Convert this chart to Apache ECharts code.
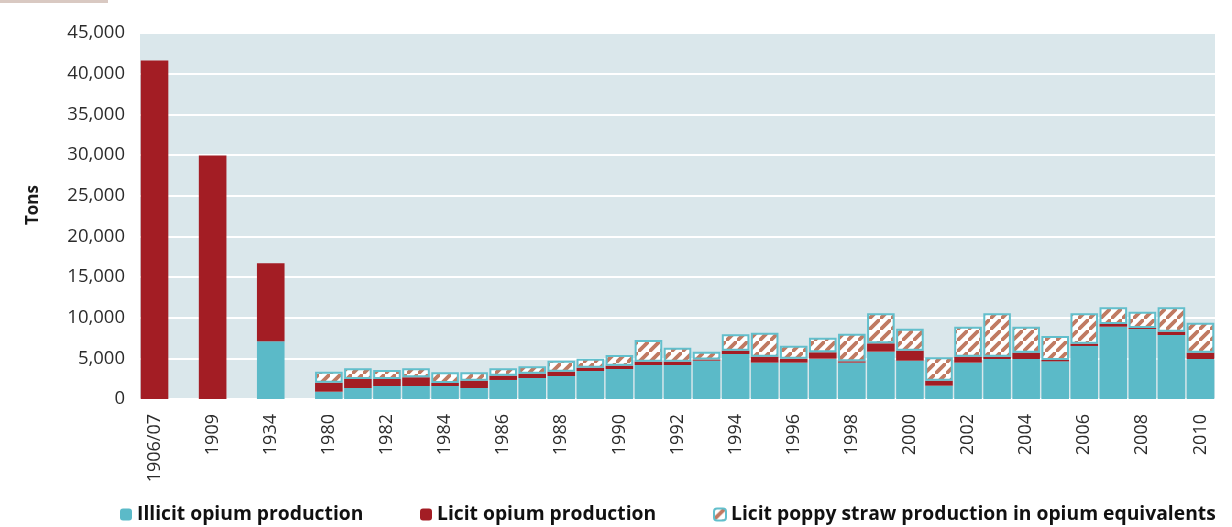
<!DOCTYPE html>
<html>
<head>
<meta charset="utf-8">
<script src="https://cdn.jsdelivr.net/npm/echarts@6/dist/echarts.min.js"></script>
<style>
html,body{margin:0;padding:0;background:#fff;}
#chart{width:1232px;height:527px;}
</style>
</head>
<body>
<div id="chart"></div>
<script>
// Categories (spacer slots separate the early years, as in the original)
var categories = ['1906/07',' ','1909','  ','1934','   ',
  '1980','1981','1982','1983','1984','1985','1986','1987','1988','1989',
  '1990','1991','1992','1993','1994','1995','1996','1997','1998','1999',
  '2000','2001','2002','2003','2004','2005','2006','2007','2008','2009','2010'];

var illicitOpium = [null,null,null,null,7100,null,
  900,1350,1600,1600,1600,1350,2340,2580,2830,3440,
  3690,4180,4180,4710,5530,4470,4470,4960,4470,5820,
  4710,1640,4470,4920,4920,4630,6520,8890,8610,7870,4920];

var licitOpium = [41624,null,29935,null,9600,null,
  1100,1110,860,1070,370,900,530,530,530,410,
  410,410,410,150,410,730,490,780,160,1020,
  1230,610,730,280,780,170,280,330,120,410,780];

var licitStraw = [null,null,null,null,null,null,
  1350,1310,1110,1100,1310,1030,900,910,1350,1110,
  1310,2660,1720,960,2010,2950,1600,1800,3400,3690,
  2710,2870,3690,5330,3190,2950,3730,2050,2010,2990,3680];

var yTicks = {min: 0, max: 45000, interval: 5000};

var seriesNames = ['Illicit opium production','Licit opium production','Licit poppy straw production in opium equivalents'];

// hatch pattern for straw series
var T = 11;
var tile = document.createElement('canvas');
tile.width = T; tile.height = T;
var g = tile.getContext('2d');
g.fillStyle = '#ffffff';
g.fillRect(0,0,T,T);
g.strokeStyle = '#c07a62';
g.lineWidth = 3.8;
g.beginPath();
g.moveTo(-2,T+2); g.lineTo(T+2,-2);
g.moveTo(-T-2,2); g.lineTo(2,-T-2);
g.moveTo(T-2,2*T+2); g.lineTo(2*T+2,T-2);
g.stroke();

var chart = echarts.init(document.getElementById('chart'), null, {renderer:'canvas'});
var font = 'Open Sans';
var legendText = {fontFamily:font, fontWeight:'bold', fontSize:19.3, color:'#111'};
chart.setOption({
  animation: false,
  backgroundColor: '#ffffff',
  grid: {left: 140, right: 17, top: 33, bottom: 128, show: true, backgroundColor: '#dae7eb', borderWidth: 0},
  graphic: [
    {type:'rect', left:0, top:0, shape:{width:108, height:3}, style:{fill:'#d9c9c2'}},
    {type:'text', x:33, y:205, rotation: Math.PI/2,
     style:{text:'Tons', font:'bold 17px "Open Sans"', fill:'#1a1a1a', textAlign:'center', textVerticalAlign:'middle'}}
  ],
  legend: [
    {data:[seriesNames[0]], left:115, top:500, itemWidth:12, itemHeight:12, itemGap:0, textStyle:legendText},
    {data:[seriesNames[1]], left:415, top:500, itemWidth:12, itemHeight:12, itemGap:0, textStyle:legendText},
    {data:[seriesNames[2]], left:708, top:500, itemWidth:12, itemHeight:12, itemGap:0, textStyle:legendText}
  ],
  xAxis: {
    type: 'category',
    data: categories,
    axisLine: {show:false},
    axisTick: {show:false},
    splitLine: {show:false},
    axisLabel: {interval:1, rotate:90, margin:15, fontFamily:font, fontSize:18, color:'#2b2b2b'}
  },
  yAxis: {
    type: 'value',
    min: yTicks.min, max: yTicks.max, interval: yTicks.interval,
    axisLine: {show:false},
    axisTick: {show:false},
    splitLine: {show:true, lineStyle:{color:'#ffffff', width:2}},
    axisLabel: {margin:15, fontFamily:font, fontSize:18.5, color:'#2b2b2b',
      formatter: function(v){ return v.toLocaleString('en-US'); }}
  },
  series: [
    {name: seriesNames[0], type:'bar', stack:'t', data: illicitOpium, barCategoryGap:'5%',
     itemStyle:{color:'#5bbac8'}},
    {name: seriesNames[1], type:'bar', stack:'t', data: licitOpium, barCategoryGap:'5%',
     itemStyle:{color:'#a31d24'}},
    {name: seriesNames[2], type:'bar', stack:'t', data: licitStraw, barCategoryGap:'5%',
     itemStyle:{color:{image: tile, repeat:'repeat'}, borderColor:'#62bfcc', borderWidth:2}}
  ]
});
</script>
</body>
</html>
